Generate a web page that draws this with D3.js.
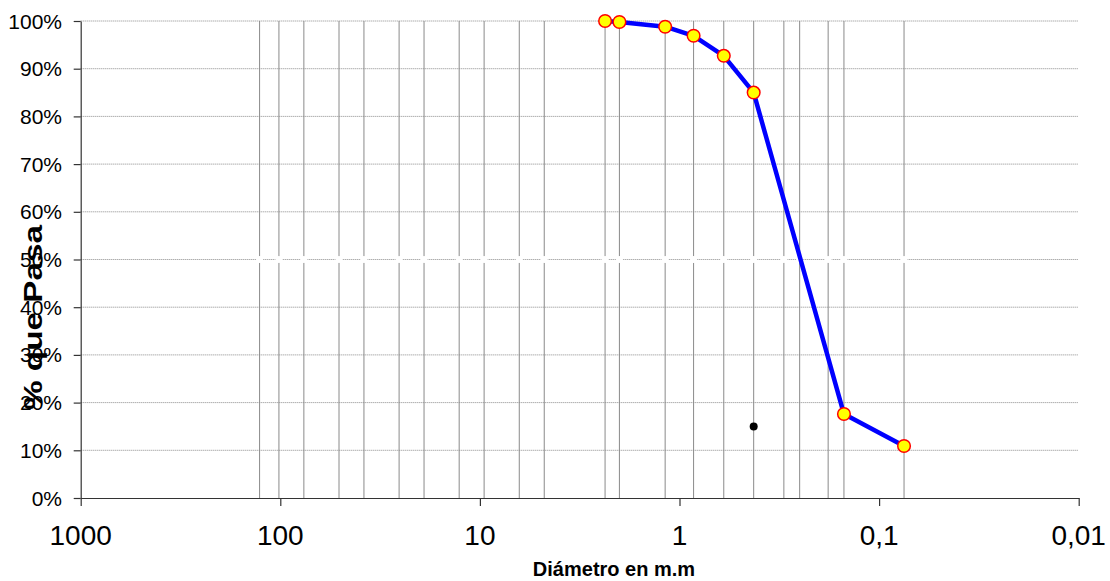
<!DOCTYPE html>
<html>
<head>
<meta charset="utf-8">
<script src="https://cdn.jsdelivr.net/npm/d3@7"></script>
<style>
  html, body { margin: 0; padding: 0; background: #fff; }
  svg { display: block; font-family: "Liberation Sans", Arial, sans-serif; }
</style>
</head>
<body>
<svg id="chart" width="1110" height="581"></svg>
<script>
// Sieve openings (mm) drawn as vertical reference lines
const sieveSizes = [127, 101.6, 76.2, 50.8, 38.1, 25.4, 19.05, 12.7, 9.525, 6.35, 4.76,
                    2.36, 2.0, 1.18, 0.85, 0.6, 0.425, 0.3, 0.25, 0.18, 0.15, 0.075];

// Grading curve: sieve opening (mm) and fraction passing
const curveSizes = [2.36, 2.0, 1.18, 0.85, 0.6, 0.425, 0.15, 0.075];
const curvePassing = [1.000, 0.998, 0.988, 0.969, 0.927, 0.850, 0.176, 0.109];

// Single reference point
const refSize = [0.425];
const refPassing = [0.15];

// Axis ticks
const xTicks = [1000, 100, 10, 1, 0.1, 0.01];
const xTickLabels = ["1000", "100", "10", "1", "0,1", "0,01"];
const yTicks = [0, 0.1, 0.2, 0.3, 0.4, 0.5, 0.6, 0.7, 0.8, 0.9, 1.0];

const svg = d3.select("#chart");
const plotLeft = 80.7, plotRight = 1078.7, plotTop = 21, plotBottom = 498;

const x = d3.scaleLog().domain([1000, 0.01]).range([plotLeft, plotRight]);
const y = d3.scaleLinear().domain([0, 1]).range([plotBottom, plotTop]);

// Horizontal grid (dotted)
svg.append("g").selectAll("line").data(yTicks.filter(d => d > 0)).join("line")
  .attr("x1", plotLeft).attr("x2", plotRight)
  .attr("y1", d => y(d)).attr("y2", d => y(d))
  .attr("stroke", "#8a8a8a").attr("stroke-width", 1)
  .attr("stroke-dasharray", "1,1");

// Vertical grid at sieve openings
svg.append("g").selectAll("line").data(sieveSizes).join("line")
  .attr("x1", d => x(d)).attr("x2", d => x(d))
  .attr("y1", plotTop).attr("y2", plotBottom)
  .attr("stroke", "#8a8a8a").attr("stroke-width", 1);

// White markers along the 50% line at every sieve
svg.append("g").selectAll("circle").data(sieveSizes).join("circle")
  .attr("cx", d => x(d)).attr("cy", y(0.5)).attr("r", 3.5)
  .attr("fill", "#fff");

// Axes
const yAxis = d3.axisLeft(y).tickValues(yTicks).tickSize(7).tickSizeOuter(0).tickFormat("");
svg.append("g").attr("transform", `translate(${plotLeft},0)`).call(yAxis)
  .call(g => g.selectAll("path, line").attr("stroke", "#333").attr("stroke-width", 1.2));

const xAxis = d3.axisBottom(x).tickValues(xTicks).tickSize(8).tickSizeOuter(0).tickFormat("");
svg.append("g").attr("transform", `translate(0,${plotBottom})`).call(xAxis)
  .call(g => g.selectAll("path, line").attr("stroke", "#333").attr("stroke-width", 1.2));

// Y tick labels
svg.append("g").selectAll("text").data(yTicks).join("text")
  .attr("x", 62).attr("y", d => y(d) + 7.5)
  .attr("text-anchor", "end").attr("font-size", 21).attr("fill", "#000")
  .text(d => Math.round(d * 100) + "%");

// X tick labels
svg.append("g").selectAll("text").data(xTicks).join("text")
  .attr("x", d => x(d)).attr("y", 545)
  .attr("text-anchor", "middle").attr("font-size", 28).attr("fill", "#000")
  .text((d, i) => xTickLabels[i]);

// Grading curve
const line = d3.line().x(d => x(d[0])).y(d => y(d[1]));
const pts = curveSizes.map((s, i) => [s, curvePassing[i]]);
svg.append("path").datum(pts).attr("d", line)
  .attr("fill", "none").attr("stroke", "#0000ff").attr("stroke-width", 4.5)
  .attr("stroke-linejoin", "round");

svg.append("g").selectAll("circle").data(pts).join("circle")
  .attr("cx", d => x(d[0])).attr("cy", d => y(d[1])).attr("r", 6.3)
  .attr("fill", "#ffff00").attr("stroke", "#ff0000").attr("stroke-width", 1.5);

// Reference point
svg.append("g").selectAll("circle").data(refSize).join("circle")
  .attr("cx", d => x(d)).attr("cy", (d, i) => y(refPassing[i])).attr("r", 4)
  .attr("fill", "#000");

// Axis titles
svg.append("text")
  .attr("transform", "translate(42,317.5) rotate(-90)")
  .attr("text-anchor", "middle").attr("font-size", 25).attr("font-weight", "bold")
  .attr("textLength", 185).attr("lengthAdjust", "spacingAndGlyphs")
  .text("% que Pasa");

svg.append("text")
  .attr("x", 614).attr("y", 576)
  .attr("text-anchor", "middle").attr("font-size", 20).attr("font-weight", "bold")
  .text("Diámetro en m.m");
</script>
</body>
</html>
